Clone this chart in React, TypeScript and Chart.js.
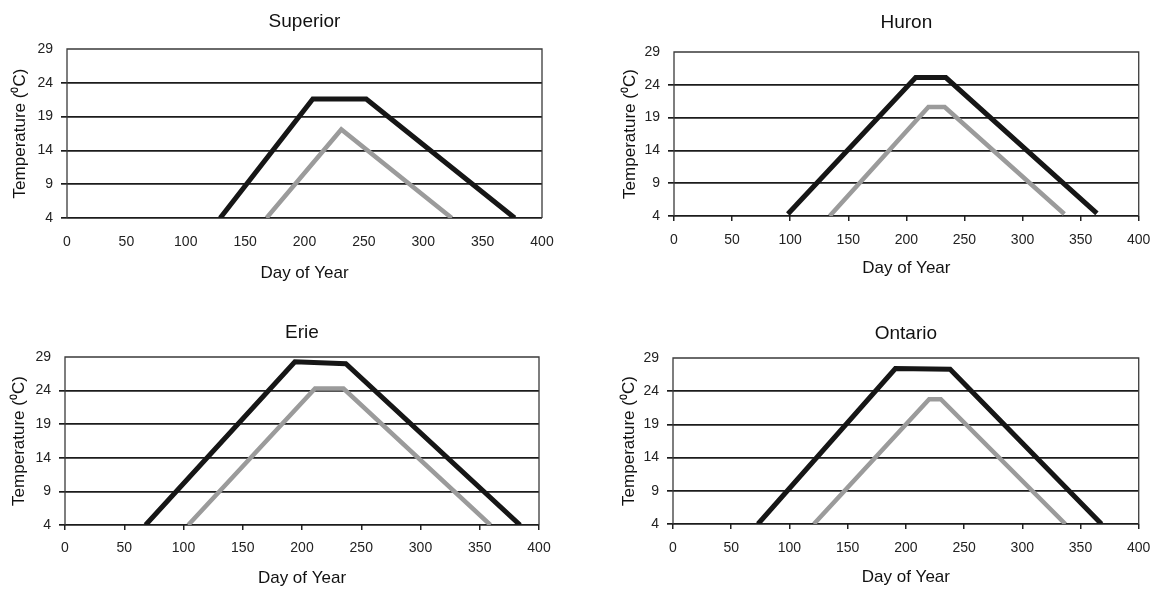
import React, { useEffect, useRef } from "react";
import { Chart, registerables } from "chart.js";

Chart.register(...registerables);

// ---- Data ----
const xTickValues = [0, 50, 100, 150, 200, 250, 300, 350, 400];
const yTickValues = [4, 9, 14, 19, 24, 29];

const superiorDarkDays = [129, 207, 252, 377];
const superiorDarkTemps = [4, 21.6, 21.6, 4];
const superiorLightDays = [168, 231, 324];
const superiorLightTemps = [4, 17.1, 4];

const huronDarkDays = [98, 208, 234, 364];
const huronDarkTemps = [4.3, 25.1, 25.1, 4.4];
const huronLightDays = [134, 219, 233, 336];
const huronLightTemps = [4, 20.6, 20.6, 4.3];

const erieDarkDays = [68, 194, 237, 384];
const erieDarkTemps = [4, 28.3, 28.0, 4];
const erieLightDays = [104, 211, 235, 359];
const erieLightTemps = [4, 24.3, 24.3, 4];

const ontarioDarkDays = [73, 191, 238, 368];
const ontarioDarkTemps = [4, 27.4, 27.3, 4];
const ontarioLightDays = [121, 220, 230, 337];
const ontarioLightTemps = [4, 22.8, 22.8, 4];

const lakeNames = ["Superior", "Huron", "Erie", "Ontario"];
const xAxisTitle = "Day of Year";
const yAxisTitle = "Temperature (\u2070C)";

// ---- Layout (positions/sizes only) ----
type Panel = {
  name: string;
  darkX: number[]; darkY: number[]; lightX: number[]; lightY: number[];
  left: number; top: number; w: number; h: number;
  L: number; R: number; T: number; B: number;
  titleY: number; yTitlePad: number; xTitlePad: number;
  xTicks: boolean; xTickPad: number;
};

const panels: Panel[] = [
  { name: lakeNames[0], darkX: superiorDarkDays, darkY: superiorDarkTemps, lightX: superiorLightDays, lightY: superiorLightTemps,
    left: 0, top: 0, w: 580, h: 290, L: 67, R: 542, T: 49, B: 218, titleY: 22, yTitlePad: 9.8, xTitlePad: 6.8, xTicks: false, xTickPad: 15.6 },
  { name: lakeNames[1], darkX: huronDarkDays, darkY: huronDarkTemps, lightX: huronLightDays, lightY: huronLightTemps,
    left: 580, top: 0, w: 581, h: 290, L: 94, R: 563, T: 52, B: 216, titleY: 23, yTitlePad: 39.8, xTitlePad: 11.8, xTicks: true, xTickPad: 10.6 },
  { name: lakeNames[2], darkX: erieDarkDays, darkY: erieDarkTemps, lightX: erieLightDays, lightY: erieLightTemps,
    left: 0, top: 290, w: 580, h: 299, L: 65, R: 539, T: 67, B: 235, titleY: 43, yTitlePad: 8.8, xTitlePad: 0, xTicks: true, xTickPad: 9.9 },
  { name: lakeNames[3], darkX: ontarioDarkDays, darkY: ontarioDarkTemps, lightX: ontarioLightDays, lightY: ontarioLightTemps,
    left: 580, top: 290, w: 581, h: 299, L: 93, R: 566, T: 68, B: 234, titleY: 44, yTitlePad: 38.8, xTitlePad: 1.8, xTicks: true, xTickPad: 10.6 },
];

const FONT = "'Liberation Sans', Arial, Helvetica, sans-serif";

const framePlugin = {
  id: "frameAndTitle",
  beforeDatasetsDraw(chart: any) {
    const { ctx, chartArea: a } = chart;
    ctx.save();
    ctx.strokeStyle = "#3a3a3a";
    ctx.lineWidth = 1.3;
    ctx.beginPath();
    ctx.moveTo(a.left, a.bottom);
    ctx.lineTo(a.left, a.top);
    ctx.lineTo(a.right, a.top);
    ctx.lineTo(a.right, a.bottom);
    ctx.stroke();
    ctx.restore();
  },
  afterDraw(chart: any, _args: any, opts: any) {
    const { ctx, chartArea: a } = chart;
    ctx.save();
    ctx.fillStyle = "#111";
    ctx.font = `19px ${FONT}`;
    ctx.textAlign = "center";
    ctx.textBaseline = "middle";
    ctx.fillText(opts.text, (a.left + a.right) / 2, opts.y);
    ctx.restore();
  },
};

function toPoints(xs: number[], ys: number[]) {
  return xs.map((x, i) => ({ x, y: ys[i] }));
}

function LakeChart({ p }: { p: Panel }) {
  const ref = useRef<HTMLCanvasElement | null>(null);
  useEffect(() => {
    if (!ref.current) return;
    const chart = new Chart(ref.current, {
      type: "line",
      data: {
        datasets: [
          {
            label: "Maximum",
            data: toPoints(p.darkX, p.darkY),
            borderColor: "#161616",
            borderWidth: 5,
            pointRadius: 0,
            tension: 0,
            fill: false,
            borderJoinStyle: "miter",
          },
          {
            label: "Minimum",
            data: toPoints(p.lightX, p.lightY),
            borderColor: "#9b9b9b",
            borderWidth: 4.5,
            pointRadius: 0,
            tension: 0,
            fill: false,
            borderJoinStyle: "miter",
          },
        ],
      },
      options: {
        animation: false,
        responsive: false,
        devicePixelRatio: 1,
        events: [],
        layout: { padding: { left: 0, top: p.T, right: p.w - p.R, bottom: 0 } },
        plugins: {
          legend: { display: false },
          tooltip: { enabled: false },
          title: { display: false },
          frameAndTitle: { text: p.name, y: p.titleY },
        } as any,
        scales: {
          x: {
            type: "linear",
            min: 0,
            max: 400,
            afterBuildTicks: (s: any) => { s.ticks = xTickValues.map((v) => ({ value: v })); },
            afterFit: (s: any) => { s.height = p.h - p.B; },
            grid: {
              display: p.xTicks,
              drawOnChartArea: false,
              drawTicks: p.xTicks,
              tickLength: 5,
              color: "#222",
              lineWidth: 1.5,
            },
            border: { display: false },
            ticks: { color: "#222", font: { family: FONT, size: 14 }, padding: p.xTickPad, maxRotation: 0, autoSkip: false },
            title: { display: true, text: xAxisTitle, color: "#111", font: { family: FONT, size: 17 }, padding: { top: 0, bottom: p.xTitlePad } },
          },
          y: {
            type: "linear",
            min: 4,
            max: 29,
            afterBuildTicks: (s: any) => { s.ticks = yTickValues.map((v) => ({ value: v })); },
            afterFit: (s: any) => { s.width = p.L; },
            grid: {
              drawTicks: true,
              tickLength: 6,
              color: (c: any) => (c.tick && c.tick.value === 29 ? "rgba(0,0,0,0)" : "#1c1c1c"),
              lineWidth: 1.7,
            },
            border: { display: false },
            ticks: { color: "#222", font: { family: FONT, size: 14 }, padding: 8 },
            title: { display: true, text: yAxisTitle, color: "#111", font: { family: FONT, size: 17 }, padding: { top: p.yTitlePad, bottom: 0 } },
          },
        },
      },
      plugins: [framePlugin as any],
    });
    return () => chart.destroy();
  }, [p]);
  return (
    <canvas
      ref={ref}
      width={p.w}
      height={p.h}
      style={{ position: "absolute", left: p.left, top: p.top, width: p.w, height: p.h, display: "block" }}
    />
  );
}

export default function App() {
  return (
    <div style={{ position: "absolute", left: 0, top: 0, width: 1161, height: 589, background: "#fff", overflow: "hidden" }}>
      {panels.map((p) => (
        <LakeChart key={p.name} p={p} />
      ))}
    </div>
  );
}
